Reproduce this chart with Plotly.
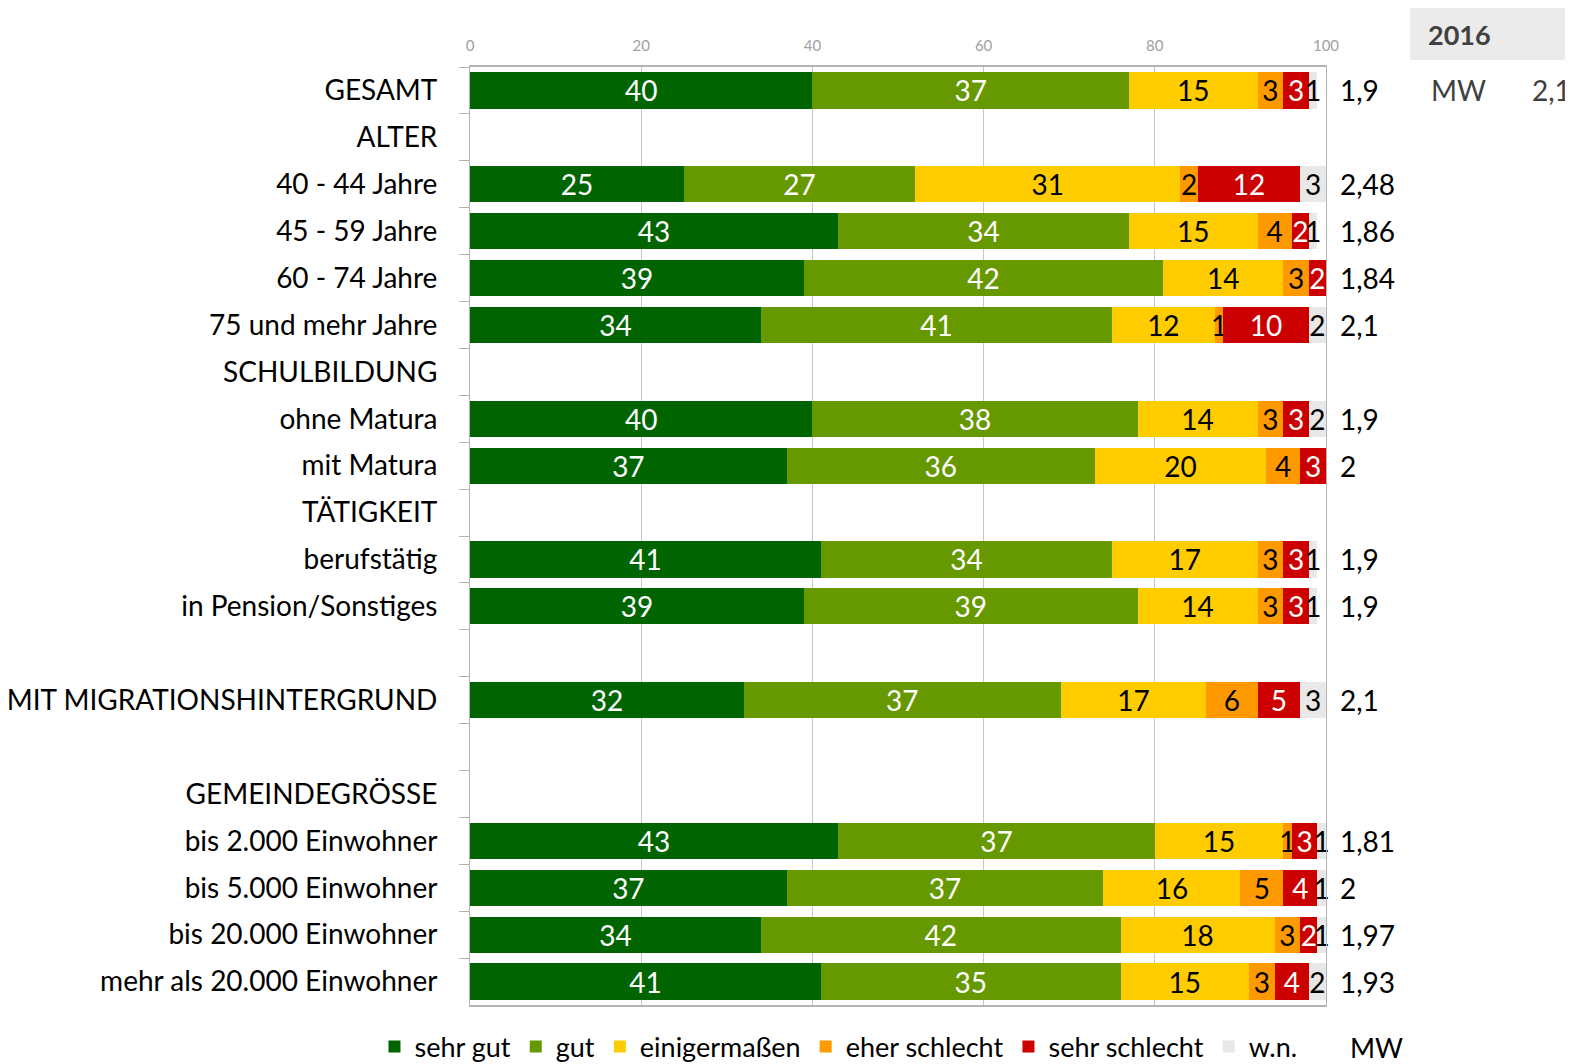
import plotly.graph_objects as go

categories = [
    "GESAMT", "ALTER", "40 - 44 Jahre", "45 - 59 Jahre", "60 - 74 Jahre",
    "75 und mehr Jahre", "SCHULBILDUNG", "ohne Matura", "mit Matura",
    "TÄTIGKEIT", "berufstätig", "in Pension/Sonstiges", " ",
    "MIT MIGRATIONSHINTERGRUND", "  ", "GEMEINDEGRÖSSE",
    "bis 2.000 Einwohner", "bis 5.000 Einwohner", "bis 20.000 Einwohner",
    "mehr als 20.000 Einwohner",
]
N = None
sehr_gut      = [40, N, 25, 43, 39, 34, N, 40, 37, N, 41, 39, N, 32, N, N, 43, 37, 34, 41]
gut           = [37, N, 27, 34, 42, 41, N, 38, 36, N, 34, 39, N, 37, N, N, 37, 37, 42, 35]
einigermassen = [15, N, 31, 15, 14, 12, N, 14, 20, N, 17, 14, N, 17, N, N, 15, 16, 18, 15]
eher_schlecht = [3,  N, 2,  4,  3,  1,  N, 3,  4,  N, 3,  3,  N, 6,  N, N, 1,  5,  3,  3]
sehr_schlecht = [3,  N, 12, 2,  2,  10, N, 3,  3,  N, 3,  3,  N, 5,  N, N, 3,  4,  2,  4]
wn            = [1,  N, 3,  1,  N,  2,  N, 2,  N,  N, 1,  1,  N, 3,  N, N, 1,  1,  1,  2]
mw            = ["1,9", "", "2,48", "1,86", "1,84", "2,1", "", "1,9", "2", "",
                 "1,9", "1,9", "", "2,1", "", "", "1,81", "2", "1,97", "1,93"]
series_names = ["sehr gut", "gut", "einigermaßen", "eher schlecht", "sehr schlecht", "w.n."]
series_values = [sehr_gut, gut, einigermassen, eher_schlecht, sehr_schlecht, wn]
colors = ["#006400", "#669900", "#FFCC00", "#FF9900", "#CC0000", "#E8E8E8"]
text_colors = ["white", "white", "black", "black", "white", "black"]
xticks = [0, 20, 40, 60, 80, 100]
year_label = "2016"
mw_total_label = "MW"
mw_total_value = "2,1"

FONT = "Lato"
FS = 28
fig = go.Figure()
for name, vals, col, tcol in zip(series_names, series_values, colors, text_colors):
    fig.add_trace(go.Bar(
        y=categories, x=vals, name=name, orientation="h",
        marker=dict(color=col, line=dict(width=0)),
        text=[("" if v is None else str(v)) for v in vals],
        textposition="inside", insidetextanchor="middle", textangle=0,
        constraintext="none", cliponaxis=False,
        textfont=dict(family=FONT, size=FS, color=tcol),
        hoverinfo="skip",
    ))

for cat, m in zip(categories, mw):
    if m:
        fig.add_annotation(x=1.014, xref="paper", y=cat, yref="y", text=m,
                           showarrow=False, xanchor="left",
                           font=dict(family=FONT, size=FS, color="black"))

fig.add_annotation(x=1.026, xref="paper", y=-0.0448, yref="paper", text="MW",
                   showarrow=False, xanchor="left", yanchor="middle",
                   font=dict(family=FONT, size=27, color="black"))

# top-right box
fig.add_shape(type="rect", xref="paper", yref="paper",
              x0=1.0981, x1=1.32, y0=1.0075, y1=1.07,
              fillcolor="#EBEBEB", line=dict(width=0), layer="below")
fig.add_annotation(x=1.117, xref="paper", y=1.0345, yref="paper", text="<b>" + year_label + "</b>",
                   showarrow=False, xanchor="left", yanchor="middle",
                   font=dict(family=FONT, size=27, color="#404040"))
fig.add_annotation(x=1.1205, xref="paper", y=categories[0], yref="y", text=mw_total_label,
                   showarrow=False, xanchor="left",
                   font=dict(family=FONT, size=FS, color="#404040"))
fig.add_annotation(x=1.2383, xref="paper", y=categories[0], yref="y", text=mw_total_value,
                   showarrow=False, xanchor="left",
                   font=dict(family=FONT, size=FS, color="#404040"))

fig.update_layout(
    barmode="stack", bargap=0.23,
    width=1565, height=1056,
    margin=dict(l=462, r=247, t=59, b=59, autoexpand=False),
    plot_bgcolor="white", paper_bgcolor="white",
    font=dict(family=FONT, color="black"),
    uniformtext=dict(minsize=FS, mode="show"),
    showlegend=True,
    legend=dict(orientation="h", x=-0.1116, xanchor="left", y=-0.0448, yanchor="middle",
                font=dict(family=FONT, size=27, color="black"),
                traceorder="normal", itemwidth=30, tracegroupgap=0),
    xaxis=dict(range=[0, 100], tickvals=xticks, side="top",
               showgrid=True, gridcolor="#C8C8C8", gridwidth=1,
               showline=True, linecolor="#B4B4B4", linewidth=2, mirror=True,
               ticks="", ticklabelstandoff=8, automargin=False,
               tickfont=dict(family=FONT, size=15, color="#A0A0A0"),
               zeroline=False, fixedrange=True),
    yaxis=dict(categoryorder="array", categoryarray=categories, autorange="reversed",
               showline=True, linecolor="#B4B4B4", linewidth=1, mirror=True,
               ticks="outside", ticklen=10, tickcolor="#B4B4B4", tickson="boundaries",
               ticklabelstandoff=26, automargin=False,
               tickfont=dict(family=FONT, size=FS, color="black"),
               showgrid=False, fixedrange=True),
)
fig.write_html("out.html")
